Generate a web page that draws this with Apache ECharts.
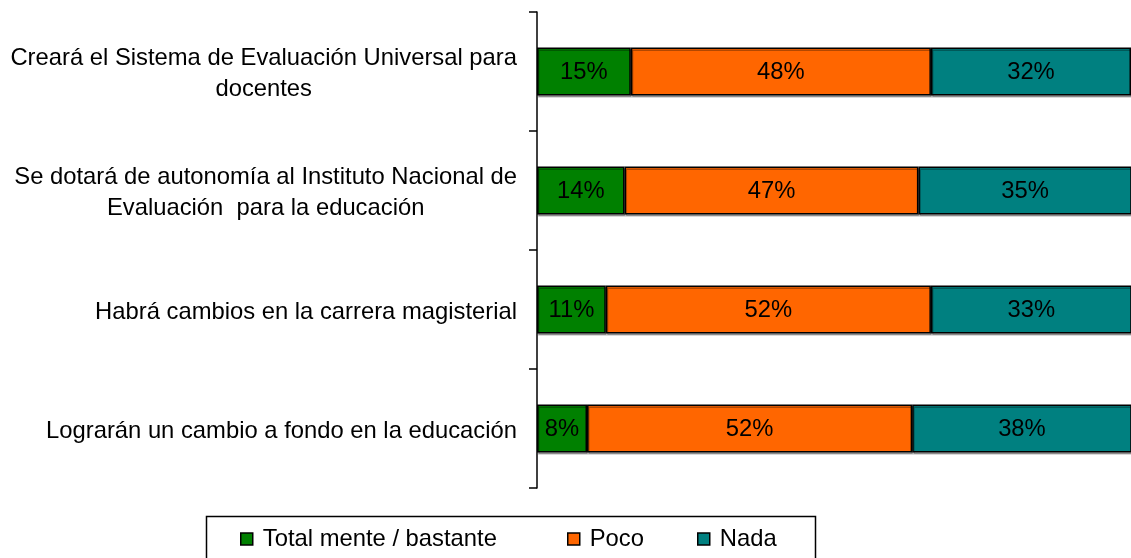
<!DOCTYPE html>
<html><head><meta charset="utf-8">
<script src="https://cdn.jsdelivr.net/npm/echarts@6/dist/echarts.min.js"></script>
<style>html,body{margin:0;padding:0;background:#fff}#c{width:1131px;height:558px}</style>
</head><body><div id="c"></div>
<script>
const categories = [
  "Creará el Sistema de Evaluación Universal para\ndocentes",
  "Se dotará de autonomía al Instituto Nacional de\nEvaluación  para la educación",
  "Habrá cambios en la carrera magisterial",
  "Lograrán un cambio a fondo en la educación"
];
const seriesNames = ["Total mente / bastante", "Poco", "Nada"];
const totalmente = [15, 14, 11, 8];
const poco = [48, 47, 52, 52];
const nada = [32, 35, 33, 38];
const colors = ["#008000", "#FF6600", "#008080"];

const FONT = "'Liberation Sans', Arial, sans-serif";
const FS = 23.8;

const chart = echarts.init(document.getElementById('c'), null, {renderer: 'canvas'});
function mk(name, data, color) {
  return {
    name, type: 'bar', stack: 'all', data, barWidth: 48, clip: true,
    itemStyle: {color, borderColor: '#000', borderWidth: 1.5,
      shadowColor: 'rgba(0,0,0,0.3)', shadowOffsetX: 1, shadowOffsetY: 2, shadowBlur: 0},
    label: {show: true, position: 'inside', formatter: '{c}%', color: '#000',
      fontSize: FS, fontFamily: FONT, offset: [0, 1]},
    emphasis: {disabled: true}
  };
}
const legendLeft = [240, 567, 697];
chart.setOption({
  animation: false,
  grid: {left: 537, right: 0, top: 12, bottom: 70, containLabel: false},
  xAxis: {type: 'value', min: 0, max: 95, show: false},
  yAxis: {
    type: 'category', data: categories, inverse: true,
    axisLine: {lineStyle: {color: '#000', width: 1.5}},
    axisTick: {show: true, length: 8, lineStyle: {color: '#000', width: 1.5}},
    axisLabel: {
      margin: 20, align: 'right', color: '#000', fontFamily: FONT, fontSize: FS,
      padding: [5, 0, 0, 0],
      formatter: v => v.split('\n').map(l => '{c|' + l + '}').join('\n'),
      rich: {c: {align: 'center', fontSize: FS, lineHeight: 31, fontFamily: FONT, color: '#000'}}
    },
    splitLine: {show: false}
  },
  legend: seriesNames.map((n, i) => ({
    data: [n], left: legendLeft[i], top: 527, padding: 0,
    itemWidth: 12, itemHeight: 12, icon: 'rect',
    itemStyle: {borderColor: '#000', borderWidth: 1.5, shadowBlur: 0, shadowOffsetX: 0, shadowOffsetY: 0},
    textStyle: {fontSize: FS, fontFamily: FONT, color: '#000', padding: [0, 0, 0, 5]},
    selectedMode: false
  })),
  graphic: [{type: 'rect', left: 204, top: 514, shape: {width: 609, height: 60},
    style: {fill: 'none', stroke: '#000', lineWidth: 1.5}, silent: true}],
  series: [mk(seriesNames[0], totalmente, colors[0]), mk(seriesNames[1], poco, colors[1]), mk(seriesNames[2], nada, colors[2])]
});
</script></body></html>
